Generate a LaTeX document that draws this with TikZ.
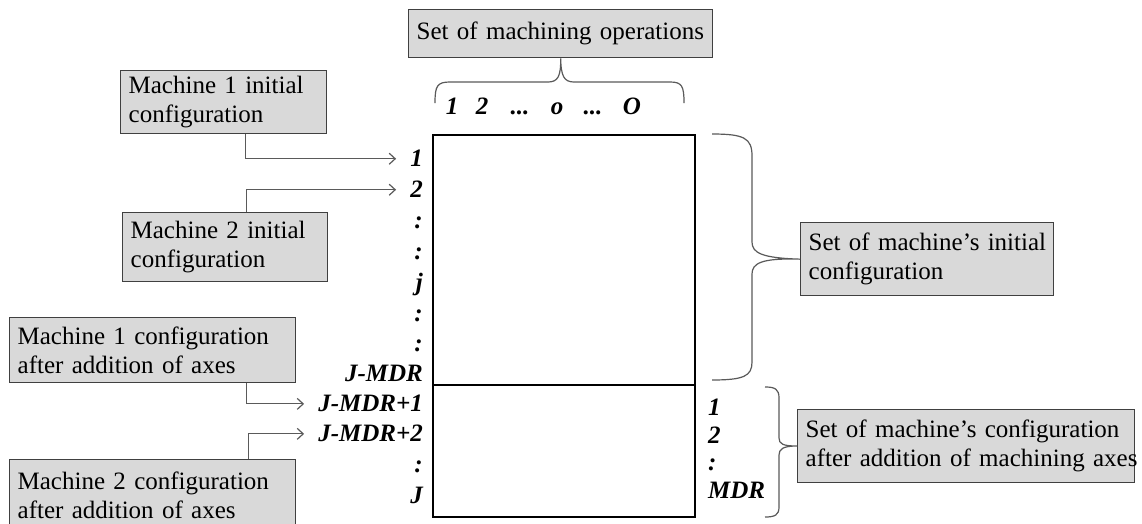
\documentclass[tikz,border=0pt]{standalone}
\usepackage{fontspec}
\setmainfont{Liberation Serif}
\usetikzlibrary{arrows.meta}
\definecolor{boxfill}{HTML}{D9D9D9}
\definecolor{boxline}{HTML}{404040}
\definecolor{connc}{HTML}{5A5A5A}
\begin{document}
\begin{tikzpicture}[x=1pt,y=-1pt,
  gbox/.style={draw=boxline, fill=boxfill, line width=1.3pt, anchor=north west,
    align=left, inner xsep=8pt, inner ysep=0pt, font=\fontsize{25}{29}\selectfont},
  lab/.style={font=\fontsize{25}{29}\selectfont\bfseries\itshape, inner sep=0pt},
  conn/.style={draw=connc, line width=1.2pt, shorten >=14pt,
    -{Straight Barb[length=6pt,width=11pt]}},
  bracepath/.style={draw=connc, line width=1.2pt}]
\clip (0,0) rectangle (1142,523);
\useasboundingbox (0,0) rectangle (1142,523);
\fill[white] (0,0) rectangle (1142,523);

% main matrix
\draw[line width=2.5pt] (433,135) rectangle (695,517);
\draw[line width=2.2pt] (433,385) -- (695,385);

% boxes
\node[gbox, minimum width=304pt, minimum height=48pt, text width=288pt] (ops) at (408,9)
  {\mbox{Set of machining operations}};
\node[gbox, minimum width=206pt, minimum height=63pt, text width=190pt] (m1i) at (120,70)
  {\mbox{Machine 1 initial}\\\mbox{configuration}};
\node[gbox, minimum width=205pt, minimum height=69pt, text width=189pt] (m2i) at (122,212)
  {\mbox{Machine 2 initial}\\\mbox{configuration}};
\node[gbox, minimum width=286pt, minimum height=65pt, text width=270pt] (m1a) at (9,317)
  {\mbox{Machine 1 configuration}\\\mbox{after addition of axes}};
\node[gbox, minimum width=286pt, minimum height=72pt, text width=270pt] (m2a) at (9,459)
  {\mbox{Machine 2 configuration}\\\mbox{after addition of axes}};
\node[gbox, minimum width=253pt, minimum height=73pt, text width=237pt] (iset) at (800,222)
  {\mbox{Set of machine’s initial}\\\mbox{configuration}};
\node[gbox, minimum width=337pt, minimum height=73pt, text width=321pt, inner xsep=6pt] (aset) at (797,409)
  {\mbox{Set of machine’s configuration}\\\mbox{after addition of machining axes}};

% column labels (baseline y = 114)
\node[lab, anchor=base] (c1) at (452,114) {1};
\node[lab, anchor=base] (c2) at (482,114) {2};
\node[lab, anchor=base] (c3) at (520,114) {...};
\node[lab, anchor=base] (c4) at (557,114) {o};
\node[lab, anchor=base] (c5) at (593,114) {...};
\node[lab, anchor=base] (c6) at (632,114) {O};

% row labels (baseline = centre + 8)
\node[lab, anchor=base east] (r1) at (423,166) {1};
\node[lab, anchor=base east] (r2) at (423,197) {2};
\node[lab, anchor=base east] (r3) at (423,228) {:};
\node[lab, anchor=base east] (r4) at (423,259) {:};
\node[lab, anchor=base east] (r5) at (423,290) {j};
\node[lab, anchor=base east] (r6) at (423,321) {:};
\node[lab, anchor=base east] (r7) at (423,351) {:};
\node[lab, anchor=base east] (r8) at (423,381) {J-MDR};
\node[lab, anchor=base east] (r9) at (423,411) {J-MDR+1};
\node[lab, anchor=base east] (r10) at (423,441) {J-MDR+2};
\node[lab, anchor=base east] (r11) at (423,472) {:};
\node[lab, anchor=base east] (r12) at (423,503) {J};

% right labels
\node[lab, anchor=base west] (s1) at (708,415) {1};
\node[lab, anchor=base west] (s2) at (708,443) {2};
\node[lab, anchor=base west] (s3) at (708,470) {:};
\node[lab, anchor=base west] (s4) at (708,498) {MDR};

% connectors
\draw[conn] ([xshift=22pt]m1i.south) |- ([yshift=-1pt]r1.west);
\draw[conn] ([xshift=21pt]m2i.north) |- ([yshift=-1pt]r2.west);
\draw[conn] ([xshift=94pt]m1a.south) |- ([yshift=-1pt]r9.west);
\draw[conn] ([xshift=96pt]m2a.north) |- ([yshift=-1pt]r10.west);

% top brace
\draw[bracepath] (435,103) .. controls (435,86) and (437,82) .. (450,82) -- (548,82)
  .. controls (558,82) and (561,76) .. (ops.south)
  .. controls (561,76) and (564,82) .. (574,82) -- (670,82)
  .. controls (682,82) and (684,86) .. (684,103);
% right brace (initial)
\draw[bracepath] (712,134) .. controls (744,134) and (752,138) .. (752,156) -- (752,242)
  .. controls (752,253) and (762,258) .. (iset.west)
  .. controls (762,258) and (752,263) .. (752,274) -- (752,362)
  .. controls (752,376) and (744,380) .. (712,380);
% right brace (after addition)
\draw[bracepath] (765,387) .. controls (775,387) and (779,389) .. (779,398) -- (779,438)
  .. controls (779,444) and (783,446) .. (aset.west |- 0,446)
  .. controls (783,446) and (779,449) .. (779,455) -- (779,507)
  .. controls (779,515) and (775,517) .. (765,517);
\end{tikzpicture}
\end{document}
